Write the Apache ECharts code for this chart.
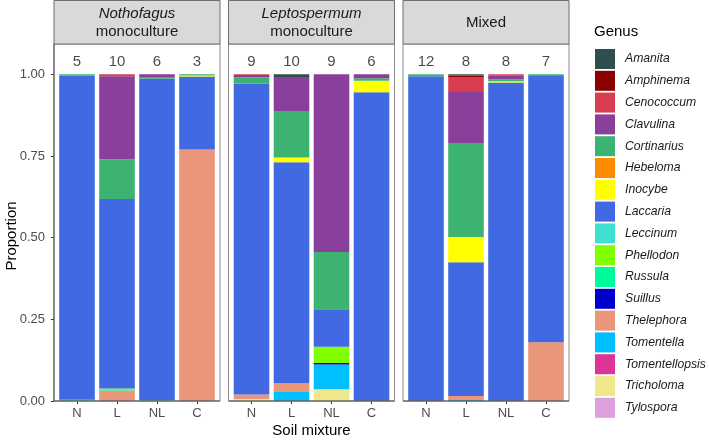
<!DOCTYPE html>
<html>
<head>
<meta charset="utf-8">
<script src="https://cdn.jsdelivr.net/npm/echarts@6/dist/echarts.min.js"></script>
<style>
  html, body { margin: 0; padding: 0; background: #fff; }
  #chart { width: 709px; height: 442px; }
</style>
</head>
<body>
<div id="chart"></div>
<script>
// soil mixtures (x categories) and panels
const mixtures = ['N', 'L', 'NL', 'C']
const panels = [
  ['Nothofagus', 'monoculture'],
  ['Leptospermum', 'monoculture'],
  ['Mixed']
]
// number of samples above each bar, per panel
const counts = [
  [5, 10, 6, 3],
  [9, 10, 9, 6],
  [12, 8, 8, 7]
]
const yTicks = [0, 0.25, 0.5, 0.75, 1]

// proportions: Nothofagus N,L,NL,C | Leptospermum N,L,NL,C | Mixed N,L,NL,C
const amanita        = [0, 0, 0, 0,             0, 0.008, 0, 0,             0, 0.004, 0, 0]
const amphinema      = [0, 0, 0, 0,             0, 0, 0, 0,                 0, 0.006, 0, 0]
const cenococcum     = [0, 0.006, 0, 0,         0.002, 0, 0, 0,             0, 0.044, 0.003, 0]
const clavulina      = [0, 0.254, 0.008, 0,     0.007, 0.104, 0.544, 0.012, 0, 0.156, 0.012, 0]
const cortinarius    = [0.004, 0.122, 0.006, 0.004, 0.019, 0.143, 0.175, 0.008, 0.006, 0.288, 0.006, 0.005]
const hebeloma       = [0, 0, 0, 0,             0, 0, 0, 0,                 0, 0, 0, 0]
const inocybe        = [0, 0, 0, 0.003,         0, 0.014, 0, 0.035,         0, 0.077, 0.004, 0]
const laccaria       = [0.992, 0.58, 0.984, 0.223, 0.952, 0.677, 0.115, 0.945, 0.994, 0.41, 0.975, 0.815]
const leccinum       = [0.004, 0, 0, 0,         0, 0, 0, 0,                 0, 0, 0, 0]
const phellodon      = [0, 0.004, 0, 0,         0, 0, 0.05, 0,              0, 0, 0, 0]
const russula        = [0, 0.002, 0.002, 0,     0, 0, 0, 0,                 0, 0, 0, 0]
const suillus        = [0, 0, 0, 0,             0, 0, 0.004, 0,             0, 0, 0, 0]
const thelephora     = [0, 0.032, 0, 0.77,      0.014, 0.024, 0, 0,         0, 0.012, 0, 0.18]
const tomentella     = [0, 0, 0, 0,             0, 0.03, 0.076, 0,          0, 0.003, 0, 0]
const tomentellopsis = [0, 0, 0, 0,             0, 0, 0, 0,                 0, 0, 0, 0]
const tricholoma     = [0, 0, 0, 0,             0.006, 0, 0.036, 0,         0, 0, 0, 0]
const tylospora      = [0, 0, 0, 0,             0, 0, 0, 0,                 0, 0, 0, 0]

const genera = ['Amanita', 'Amphinema', 'Cenococcum', 'Clavulina', 'Cortinarius', 'Hebeloma',
  'Inocybe', 'Laccaria', 'Leccinum', 'Phellodon', 'Russula', 'Suillus', 'Thelephora',
  'Tomentella', 'Tomentellopsis', 'Tricholoma', 'Tylospora']
const genusValues = [amanita, amphinema, cenococcum, clavulina, cortinarius, hebeloma,
  inocybe, laccaria, leccinum, phellodon, russula, suillus, thelephora,
  tomentella, tomentellopsis, tricholoma, tylospora]
const genusColors = ['#2F4F4F', '#8B0000', '#D83E50', '#8A3F9B', '#3CB371', '#FF8C00',
  '#FFFF00', '#4169E1', '#40E0D0', '#7FFF00', '#00FA9A', '#0000CD', '#E9967A',
  '#00BFFF', '#DC3597', '#F0E68C', '#DDA0DD']

// layout
const panelLeft = [54, 228.5, 403]
const panelW = 166
const panelTop = 44
const panelBottom = 401
const yMax = (panelBottom - panelTop) / 326.7
const labelY = 1.039

const chart = echarts.init(document.getElementById('chart'))

const grids = [], xAxes = [], yAxes = [], series = [], graphics = []

panelLeft.forEach((left, p) => {
  grids.push({ left: left + 3, width: panelW - 6, top: panelTop, height: panelBottom - panelTop })
  xAxes.push({
    type: 'category', gridIndex: p, data: mixtures,
    axisLine: { show: false },
    axisTick: { show: true, alignWithLabel: true, length: 3, lineStyle: { color: '#333' } },
    axisLabel: { color: '#4D4D4D', fontSize: 13, margin: 6, fontFamily: 'Liberation Sans' }
  })
  yAxes.push({
    type: 'value', gridIndex: p, min: 0, max: yMax,
    offset: p === 0 ? 3 : 0,
    splitLine: { show: false },
    axisLine: { show: false },
    axisTick: { show: p === 0, length: 3, customValues: yTicks, lineStyle: { color: '#333' } },
    axisLabel: {
      show: p === 0, customValues: yTicks, color: '#4D4D4D', fontSize: 13, margin: 9,
      fontFamily: 'Liberation Sans', formatter: v => v.toFixed(2)
    }
  })

  // stacked bars: last genus at bottom, like ggplot
  for (let g = genera.length - 1; g >= 0; g--) {
    series.push({
      type: 'bar', name: genera[g], stack: 'p' + p,
      xAxisIndex: p, yAxisIndex: p, barWidth: '89%',
      itemStyle: { color: genusColors[g] },
      data: genusValues[g].slice(p * 4, p * 4 + 4)
    })
  }
  // sample sizes
  series.push({
    type: 'scatter', xAxisIndex: p, yAxisIndex: p, symbolSize: 0, silent: true,
    data: counts[p].map((n, i) => [mixtures[i], labelY, n]),
    label: {
      show: true, position: 'inside', formatter: d => d.value[2],
      color: '#1A1A1A', fontSize: 15, fontFamily: 'Liberation Sans'
    }
  })

  // panel frame, strip
  graphics.push({
    type: 'rect', shape: { x: left, y: panelTop, width: panelW, height: panelBottom - panelTop },
    style: { fill: 'none', stroke: '#8C8C8C', lineWidth: 1 }, z: 10
  })
  graphics.push({
    type: 'line', shape: { x1: left, y1: panelBottom, x2: left + panelW, y2: panelBottom },
    style: { stroke: '#4D4D4D', lineWidth: 1 }, z: 11
  })
  graphics.push({
    type: 'rect', shape: { x: left, y: 0.5, width: panelW, height: panelTop - 0.5 },
    style: { fill: '#D9D9D9', stroke: '#6E6E6E', lineWidth: 1 }, z: 10
  })
  const stripText = panels[p].length > 1
    ? '{i|' + panels[p][0] + '}\n{n|' + panels[p][1] + '}'
    : '{n|' + panels[p][0] + '}'
  graphics.push({
    type: 'text', x: left + panelW / 2, y: panelTop / 2 + 1, z: 12,
    style: {
      text: stripText, align: 'center', verticalAlign: 'middle',
      fill: '#1A1A1A', fontFamily: 'Liberation Sans', fontSize: 15, lineHeight: 17.5,
      rich: {
        i: { fontStyle: 'italic', fontSize: 15, lineHeight: 17.5, fontFamily: 'Liberation Sans', fill: '#1A1A1A' },
        n: { fontSize: 15, lineHeight: 17.5, fontFamily: 'Liberation Sans', fill: '#1A1A1A' }
      }
    }
  })
})

// left axis line
graphics.push({
  type: 'line', shape: { x1: 54, y1: panelTop, x2: 54, y2: panelBottom },
  style: { stroke: '#4D4D4D', lineWidth: 1 }, z: 11
})
// axis titles
graphics.push({
  type: 'text', x: 12, y: 236, rotation: Math.PI / 2, z: 12,
  style: { text: 'Proportion', align: 'center', verticalAlign: 'middle', fontSize: 15, fontFamily: 'Liberation Sans', fill: '#000' }
})
graphics.push({
  type: 'text', x: 311.5, y: 431, z: 12,
  style: { text: 'Soil mixture', align: 'center', verticalAlign: 'middle', fontSize: 15, fontFamily: 'Liberation Sans', fill: '#000' }
})
graphics.push({
  type: 'text', x: 594, y: 32, z: 12,
  style: { text: 'Genus', align: 'left', verticalAlign: 'middle', fontSize: 15, fontFamily: 'Liberation Sans', fill: '#000' }
})

chart.setOption({
  animation: false,
  backgroundColor: '#fff',
  grid: grids,
  xAxis: xAxes,
  yAxis: yAxes,
  legend: {
    data: genera, orient: 'vertical', left: 595, top: 49, padding: 0,
    icon: 'rect', itemWidth: 20, itemHeight: 20, itemGap: 1.8,
    selectedMode: false,
    textStyle: { fontStyle: 'italic', fontSize: 12.2, color: '#1A1A1A', fontFamily: 'Liberation Sans', padding: [0, 0, 0, 5] }
  },
  series: series,
  graphic: graphics
})
</script>
</body>
</html>
